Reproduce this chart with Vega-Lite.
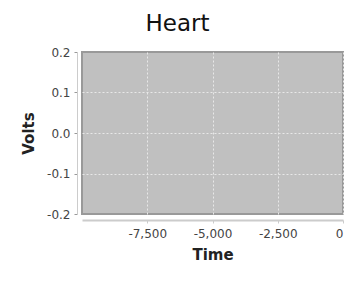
{
  "$schema": "https://vega.github.io/schema/vega-lite/v6.json",
  "autosize": "none",
  "width": 261,
  "height": 162,
  "padding": {"left": 82, "top": 52, "right": 14, "bottom": 69},
  "background": "white",
  "title": {"text": "Heart", "font": "DejaVu Sans", "fontSize": 23, "fontWeight": "normal", "color": "#111", "anchor": "middle", "dx": -35, "offset": 10},
  "data": {"values": []},
  "mark": {"type": "line", "color": "#d22", "clip": true},
  "encoding": {
    "x": {"field": "Time", "type": "quantitative", "scale": {"domain": [-10000, 0], "nice": false},
      "axis": {"title": "Time", "values": [-7500, -5000, -2500, 0], "labelExpr": "replace(format(datum.value, ',.0f'), '−', '-')", "offset": 6, "titleFont": "DejaVu Sans", "titleFontSize": 15, "titleFontWeight": "bold", "titleColor": "#222", "labelFont": "DejaVu Sans", "labelFontSize": 12, "labelColor": "#444", "domainColor": "#ccc", "domainWidth": 2, "tickColor": "#ccc", "tickSize": 3, "gridColor": "#e8e8e8", "gridDash": [2, 2], "gridWidth": 1, "labelPadding": 5, "titlePadding": 8}},
    "y": {"field": "Volts", "type": "quantitative", "scale": {"domain": [-0.2, 0.2], "nice": false},
      "axis": {"title": "Volts", "values": [-0.2, -0.1, 0, 0.1, 0.2], "labelExpr": "replace(format(datum.value, '.1f'), '−', '-')", "offset": 5, "titleFont": "DejaVu Sans", "titleFontSize": 15, "titleFontWeight": "bold", "titleColor": "#222", "labelFont": "DejaVu Sans", "labelFontSize": 12, "labelColor": "#444", "domainColor": "#ccc", "domainWidth": 1, "tickColor": "#999", "tickSize": 3, "gridColor": "#e8e8e8", "gridDash": [2, 2], "gridWidth": 1, "gridOpacity": {"condition": {"test": "abs(datum.value) > 0.15", "value": 0}, "value": 1}, "labelPadding": 4, "titlePadding": 10}}
  },
  "config": {"view": {"fill": "#c0c0c0", "stroke": "#999", "strokeWidth": 2}}
}
